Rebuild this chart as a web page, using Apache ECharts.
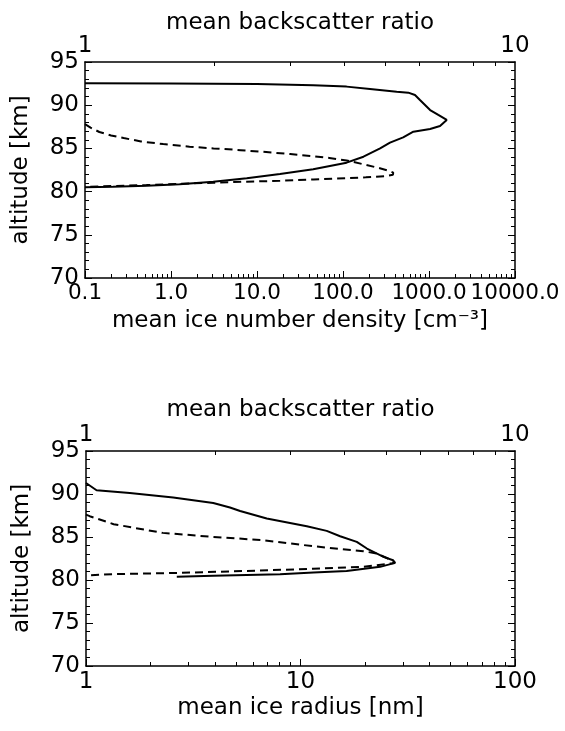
<!DOCTYPE html>
<html><head><meta charset="utf-8">
<script src="https://cdn.jsdelivr.net/npm/echarts@6/dist/echarts.min.js"></script>
<style>html,body{margin:0;padding:0;background:#fff}#c{width:565px;height:731px}</style>
</head><body><div id="c"></div>
<script>
// ---- tick labels ----
const altTickValues = [70, 75, 80, 85, 90, 95];
const densityTickValues = [0.1, 1, 10, 100, 1000, 10000];
const densityTickLabels = ['0.1', '1.0', '10.0', '100.0', '1000.0', '10000.0'];
const radiusTickValues = [1, 10, 100];
const radiusTickLabels = ['1', '10', '100'];
const ratioTickValues = [1, 10];
const ratioTickLabels = ['1', '10'];

// ---- top panel: mean ice number density (solid, bottom axis) ----
const densityValues = [0.1, 1, 10, 45, 110, 206, 421, 575, 687, 785, 1030, 1283, 1607, 1680, 1343, 1030, 658, 501, 352, 270, 173, 110, 45, 18.5, 7.6, 3.1, 1.26, 0.52, 0.21, 0.1];
const densityAltitudes = [92.55, 92.5, 92.45, 92.3, 92.15, 91.88, 91.57, 91.45, 91.18, 90.6, 89.44, 88.87, 88.29, 88.09, 87.59, 87.24, 86.93, 86.28, 85.66, 85.0, 84.04, 83.35, 82.58, 82.04, 81.54, 81.15, 80.85, 80.69, 80.57, 80.5];

// ---- top panel: mean backscatter ratio (dashed, top axis) ----
const topRatioValues = [1.0, 1.03, 1.08, 1.15, 1.23, 1.35, 1.52, 1.75, 1.99, 2.3, 2.6, 3.0, 3.39, 3.7, 4.06, 4.5, 4.85, 5.1, 5.21, 5.2, 5.0, 4.5, 4.06, 3.4, 2.84, 2.37, 1.99, 1.65, 1.39, 1.18, 1.0];
const topRatioAltitudes = [87.8, 87.4, 86.9, 86.5, 86.2, 85.8, 85.5, 85.2, 85.0, 84.8, 84.6, 84.35, 84.1, 83.9, 83.6, 83.1, 82.7, 82.4, 82.2, 81.95, 81.8, 81.65, 81.55, 81.4, 81.25, 81.15, 81.03, 80.9, 80.76, 80.65, 80.55];

// ---- bottom panel: mean ice radius (solid, bottom axis) ----
const radiusValues = [1.0, 1.12, 1.6, 2.55, 3.92, 4.69, 5.23, 6.96, 10.7, 13.25, 15.3, 18.3, 20.4, 24.4, 27.0, 27.6, 23.5, 16.4, 11.5, 8.03, 3.92, 2.65];
const radiusAltitudes = [91.28, 90.44, 90.12, 89.59, 88.96, 88.43, 88.03, 87.15, 86.25, 85.71, 85.09, 84.43, 83.66, 82.69, 82.3, 81.99, 81.53, 81.06, 80.87, 80.68, 80.48, 80.37];

// ---- bottom panel: mean backscatter ratio (dashed, top axis) ----
const bottomRatioValues = [1.0, 1.02, 1.16, 1.51, 1.98, 2.59, 3.38, 4.43, 4.76, 5.11, 5.25, 4.43, 3.38, 2.37, 1.66, 1.16, 1.0];
const bottomRatioAltitudes = [87.6, 87.42, 86.49, 85.48, 85.01, 84.63, 83.93, 83.35, 83.08, 82.39, 81.99, 81.53, 81.3, 81.06, 80.83, 80.68, 80.53];

function minorLogTicks(lo, hi) {
  const out = [];
  for (let d = lo; d < hi; d *= 10) {
    for (let k = 2; k <= 9; k++) out.push(+(d * k).toPrecision(6));
  }
  return out;
}
function zip(xs, ys) { return xs.map((x, i) => [x, ys[i]]); }

const FONT = 'DejaVu Sans';
const FS = 23;
const black = '#000';
const lineSt = { color: black, width: 1.5 };

function labelFrom(values, labels) {
  return v => {
    for (let i = 0; i < values.length; i++) {
      if (Math.abs(Math.log10(v) - Math.log10(values[i])) < 1e-6) return labels[i];
    }
    return '';
  };
}

function mainX(grid, min, max, vals, labs, name, nameGap, margin, labelSize) {
  return {
    type: 'log', gridIndex: grid, position: 'bottom', min: min, max: max, logBase: 10,
    name: name, nameLocation: 'middle', nameGap: nameGap,
    nameTextStyle: { fontFamily: FONT, fontSize: FS, color: black },
    axisLine: { show: true, lineStyle: lineSt },
    axisTick: { show: true, inside: true, length: 7, customValues: vals, lineStyle: { color: black, width: 1 } },
    axisLabel: { show: true, customValues: vals, formatter: labelFrom(vals, labs), margin: margin,
      hideOverlap: false, showMinLabel: true, showMaxLabel: true,
      fontFamily: FONT, fontSize: labelSize, color: black },
    splitLine: { show: false }, minorTick: { show: false }
  };
}
function minorX(grid, min, max, pos) {
  return {
    type: 'log', gridIndex: grid, position: pos, min: min, max: max, logBase: 10,
    axisLine: { show: false },
    axisTick: { show: true, inside: true, length: 4, customValues: minorLogTicks(min, max), lineStyle: { color: black, width: 1 } },
    axisLabel: { show: false }, splitLine: { show: false }
  };
}
function topX(grid, nameGap) {
  return {
    type: 'log', gridIndex: grid, position: 'top', min: 1, max: 10, logBase: 10,
    name: 'mean backscatter ratio', nameLocation: 'middle', nameGap: nameGap,
    nameTextStyle: { fontFamily: FONT, fontSize: FS, color: black },
    axisLine: { show: true, lineStyle: lineSt },
    axisTick: { show: true, inside: true, length: 4, customValues: minorLogTicks(1, 10), lineStyle: { color: black, width: 1 } },
    axisLabel: { show: true, customValues: ratioTickValues, formatter: labelFrom(ratioTickValues, ratioTickLabels), margin: 4,
      hideOverlap: false, showMinLabel: true, showMaxLabel: true,
      fontFamily: FONT, fontSize: FS, color: black },
    splitLine: { show: false }
  };
}
function yAx(grid, pos, labels) {
  return {
    type: 'value', gridIndex: grid, position: pos, min: 70, max: 95, interval: 5,
    name: labels ? 'altitude [km]' : '', nameLocation: 'middle', nameGap: 52,
    nameTextStyle: { fontFamily: FONT, fontSize: FS, color: black },
    axisLine: { show: true, lineStyle: lineSt },
    axisTick: { show: true, inside: true, length: 7, lineStyle: { color: black, width: 1 } },
    minorTick: { show: true, splitNumber: 5, length: 4, lineStyle: { color: black, width: 1 } },
    axisLabel: { show: labels, margin: 6, fontFamily: FONT, fontSize: FS, color: black,
      formatter: v => altTickValues.indexOf(v) >= 0 ? String(v) : '' },
    splitLine: { show: false }, minorSplitLine: { show: false }
  };
}

const chart = echarts.init(document.getElementById('c'), null, { renderer: 'canvas' });
chart.setOption({
  animation: false,
  backgroundColor: '#fff',
  grid: [
    { left: 85, top: 62, width: 430, height: 216, containLabel: false },
    { left: 86, top: 451, width: 429, height: 215, containLabel: false }
  ],
  xAxis: [
    mainX(0, 0.1, 10000, densityTickValues, densityTickLabels, 'mean ice number density [cm\u207B\u00B3]', 32, 4, 21.5),
    minorX(0, 0.1, 10000, 'bottom'),
    topX(0, 26),
    mainX(1, 1, 100, radiusTickValues, radiusTickLabels, 'mean ice radius [nm]', 31, 5, FS),
    minorX(1, 1, 100, 'bottom'),
    topX(1, 29)
  ],
  yAxis: [
    yAx(0, 'left', true), yAx(0, 'right', false),
    yAx(1, 'left', true), yAx(1, 'right', false)
  ],
  series: [
    { type: 'line', xAxisIndex: 0, yAxisIndex: 0, data: zip(densityValues, densityAltitudes),
      showSymbol: false, symbol: 'none', lineStyle: { color: black, width: 2 }, clip: true },
    { type: 'line', xAxisIndex: 2, yAxisIndex: 0, data: zip(topRatioValues, topRatioAltitudes),
      showSymbol: false, symbol: 'none', lineStyle: { color: black, width: 2, type: [8, 5] }, clip: true },
    { type: 'line', xAxisIndex: 3, yAxisIndex: 2, data: zip(radiusValues, radiusAltitudes),
      showSymbol: false, symbol: 'none', lineStyle: { color: black, width: 2 }, clip: true },
    { type: 'line', xAxisIndex: 5, yAxisIndex: 2, data: zip(bottomRatioValues, bottomRatioAltitudes),
      showSymbol: false, symbol: 'none', lineStyle: { color: black, width: 2, type: [8, 5] }, clip: true }
  ]
});
</script></body></html>
